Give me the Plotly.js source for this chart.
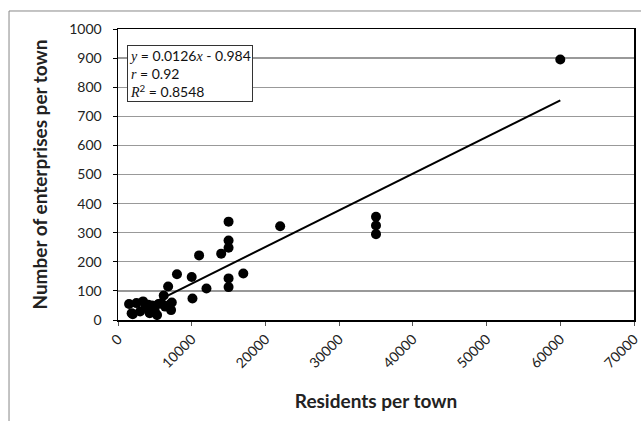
<!DOCTYPE html>
<html>
<head>
<meta charset="utf-8">
<script src="https://cdn.plot.ly/plotly-3.0.1.min.js"></script>
<style>html,body{margin:0;padding:0;background:#fff;}#chart{width:641px;height:421px;}</style>
</head>
<body>
<div id="chart"></div>
<script>
// Residents per town (x) and number of enterprises per town (y)
const residents = [1500, 1850, 2000, 2500, 3000, 3400, 3700, 4100, 4300, 4600, 5000, 5300, 5500, 5900, 6200, 6400, 6800, 7000, 7200, 7300, 8000, 10000, 10100, 11000, 12000, 14000, 15000, 15000, 15000, 15000, 15000, 17000, 22000, 35000, 35000, 35000, 60000];
const enterprises = [55, 23, 20, 58, 29, 64, 42, 52, 23, 50, 29, 17, 55, 57, 84, 46, 115, 52, 34, 60, 157, 148, 74, 222, 108, 228, 338, 273, 248, 143, 113, 160, 322, 355, 325, 295, 895];
const slope = 0.0126, intercept = -0.984;
const iv = s => '<span style="font-family:\'Liberation Serif\',serif"><i>' + s + '</i></span>';
const fitLabel = iv('y') + ' = 0.0126' + iv('x') + ' - 0.984<br>' + iv('r') + ' = 0.92<br>' + iv('R') + '<sup>2</sup> = 0.8548';
const xTicks = [0, 10000, 20000, 30000, 40000, 50000, 60000, 70000];
const yTicks = [0, 100, 200, 300, 400, 500, 600, 700, 800, 900, 1000];
const xTitle = 'Residents per town';
const yTitle = 'Number of enterprises per town';

const xmin = Math.min(...residents), xmax = Math.max(...residents);
const font = 'Lato, "Open Sans", "DejaVu Sans", sans-serif';

const traces = [
  {x: residents, y: enterprises, type: 'scatter', mode: 'markers',
   marker: {color: '#000', size: 10}, hoverinfo: 'x+y'},
  {x: [xmin, xmax], y: [slope * xmin + intercept, slope * xmax + intercept],
   type: 'scatter', mode: 'lines', line: {color: '#000', width: 2}}
];

const layout = {
  width: 641, height: 421,
  margin: {l: 118, r: 7, t: 29, b: 101},
  paper_bgcolor: '#fff', plot_bgcolor: '#fff',
  showlegend: false,
  font: {family: font, size: 14, color: '#222'},
  xaxis: {
    range: [0, 70000], tickvals: xTicks, ticktext: xTicks.map(String),
    tickangle: -45, ticks: 'outside', ticklen: 4, tickcolor: '#555',
    ticklabeloverflow: 'allow',
    showgrid: false, zeroline: false,
    showline: true, linecolor: '#000', linewidth: 1.5, mirror: true,
    tickfont: {size: 14, family: font, color: '#222'},
    title: {text: '<b>' + xTitle + '</b>', font: {size: 19, family: font, color: '#222'}, standoff: 24}
  },
  yaxis: {
    range: [0, 1000], tickvals: yTicks, ticktext: yTicks.map(String),
    ticks: 'outside', ticklen: 4, tickcolor: '#000', ticklabelstandoff: 8,
    showgrid: true, gridcolor: '#999', gridwidth: 1.3, zeroline: false,
    showline: true, linecolor: '#000', linewidth: 1.5, mirror: true,
    tickfont: {size: 14, family: font, color: '#222'},
    title: {text: '<b>' + yTitle + '</b>', font: {size: 19, family: font, color: '#222'}, standoff: 16}
  },
  shapes: [
    {type: 'rect', xref: 'paper', yref: 'paper', x0: -0.2112, x1: 1.1, y0: -0.5, y1: 1.0619,
     line: {color: '#888', width: 1}, layer: 'below'}
  ],
  annotations: [
    {xref: 'paper', yref: 'paper', x: 0.0174, y: 0.945, xanchor: 'left', yanchor: 'top',
     text: fitLabel, showarrow: false, align: 'left',
     font: {size: 14, family: font, color: '#111'},
     bgcolor: '#fff', bordercolor: '#333', borderwidth: 1, borderpad: 1}
  ]
};

Plotly.newPlot('chart', traces, layout, {displayModeBar: false, staticPlot: true});
</script>
</body>
</html>
